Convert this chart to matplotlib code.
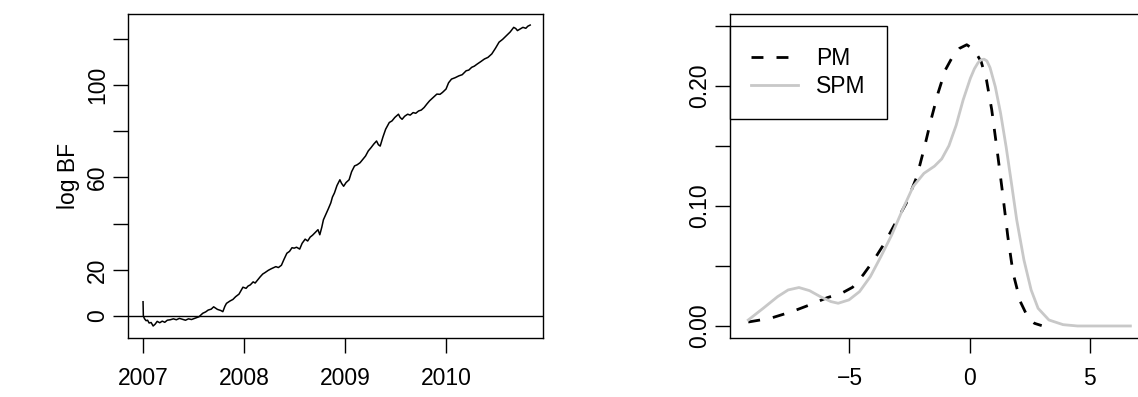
import matplotlib
matplotlib.use("Agg")
import matplotlib.pyplot as plt

plt.rcParams['font.family'] = ['Liberation Sans', 'DejaVu Sans']
plt.rcParams['font.size'] = 16.5

# left panel: cumulative log Bayes factor over time
t = [2007.000, 2007.003, 2007.015, 2007.030, 2007.045, 2007.060, 2007.080, 2007.100,
     2007.120, 2007.140, 2007.165, 2007.190, 2007.215, 2007.240, 2007.270, 2007.300,
     2007.330, 2007.360, 2007.390, 2007.420, 2007.450, 2007.480, 2007.510, 2007.554,
     2007.591, 2007.620, 2007.645, 2007.675, 2007.699, 2007.736, 2007.770, 2007.790,
     2007.810, 2007.826, 2007.860, 2007.890, 2007.917, 2007.950, 2007.970, 2007.989,
     2008.020, 2008.040, 2008.062, 2008.090, 2008.110, 2008.134, 2008.160, 2008.185,
     2008.207, 2008.240, 2008.270, 2008.295, 2008.315, 2008.340, 2008.370, 2008.395,
     2008.424, 2008.450, 2008.475, 2008.496, 2008.520, 2008.551, 2008.575, 2008.605,
     2008.630, 2008.655, 2008.678, 2008.705, 2008.732, 2008.750, 2008.770, 2008.786,
     2008.810, 2008.835, 2008.859, 2008.875, 2008.895, 2008.920, 2008.949, 2008.965,
     2008.986, 2009.010, 2009.040, 2009.065, 2009.094, 2009.120, 2009.149, 2009.175,
     2009.203, 2009.230, 2009.257, 2009.285, 2009.312, 2009.330, 2009.348, 2009.375,
     2009.402, 2009.438, 2009.465, 2009.493, 2009.529, 2009.545, 2009.565, 2009.590,
     2009.620, 2009.645, 2009.674, 2009.700, 2009.728, 2009.755, 2009.783, 2009.810,
     2009.837, 2009.870, 2009.909, 2009.940, 2009.964, 2010.000, 2010.025, 2010.054,
     2010.090, 2010.127, 2010.160, 2010.199, 2010.225, 2010.254, 2010.280, 2010.308,
     2010.345, 2010.380, 2010.415, 2010.453, 2010.490, 2010.525, 2010.560, 2010.598,
     2010.635, 2010.670, 2010.690, 2010.707, 2010.735, 2010.761, 2010.790, 2010.810,
     2010.833]
log_bf = [6.2, 0.0, -1.2, -2.0, -1.8, -3.0, -2.8, -4.3,
          -3.5, -2.3, -2.9, -2.2, -2.7, -1.8, -1.6, -1.2,
          -1.6, -1.0, -1.4, -1.8, -1.2, -1.5, -1.0, -0.3,
          1.2, 1.8, 2.6, 3.0, 4.0, 2.9, 2.4, 1.9,
          4.2, 5.5, 6.5, 7.2, 8.4, 9.5, 11.0, 12.5,
          12.0, 13.0, 13.5, 14.8, 14.3, 15.6, 17.0, 18.2,
          18.8, 19.8, 20.5, 21.0, 21.4, 21.0, 22.0, 24.5,
          27.2, 28.0, 29.6, 29.4, 29.8, 29.0, 31.5, 33.3,
          32.5, 34.2, 35.0, 36.2, 37.4, 35.2, 38.5, 41.7,
          44.0, 46.5, 49.0, 51.5, 53.3, 56.5, 59.0, 57.5,
          56.2, 57.8, 59.0, 62.5, 65.0, 65.5, 66.4, 67.8,
          69.3, 71.5, 72.9, 74.5, 75.8, 74.2, 73.6, 77.5,
          80.9, 83.8, 84.5, 86.0, 87.4, 86.0, 85.2, 86.5,
          87.4, 87.0, 88.1, 87.8, 88.8, 89.2, 90.3, 91.8,
          93.2, 94.5, 96.1, 96.0, 96.8, 98.3, 101.0, 102.6,
          103.2, 104.0, 104.5, 106.2, 106.5, 107.7, 108.2, 109.1,
          110.2, 111.3, 112.0, 113.5, 116.0, 118.6, 119.8, 121.4,
          123.0, 125.0, 124.5, 123.6, 124.3, 125.0, 124.6, 125.5,
          126.0]
year_ticks = [2007, 2008, 2009, 2010]
bf_ticks = [0, 20, 40, 60, 80, 100, 120]
bf_labels = ['0', '20', '', '60', '', '100', '']

# right panel: two density estimates
pm_x = [-9.21, -8.29, -7.40, -6.66, -5.92, -5.33, -4.87, -4.43, -3.98, -3.54, -3.09,
        -2.64, -2.20, -1.90, -1.60, -1.31, -1.01, -0.71, -0.42, -0.12, 0.18, 0.48,
        0.70, 0.92, 1.14, 1.37, 1.59, 1.81, 2.11, 2.41, 2.70, 3.00]
pm_y = [0.0033, 0.0064, 0.0119, 0.0175, 0.0236, 0.0272, 0.0322, 0.0425, 0.055, 0.0689,
        0.0856, 0.102, 0.124, 0.147, 0.172, 0.194, 0.213, 0.224, 0.231, 0.234, 0.230,
        0.220, 0.205, 0.180, 0.147, 0.111, 0.0744, 0.0439, 0.0203, 0.0078, 0.0022, 0.0003]
spm_x = [-9.21, -8.59, -7.99, -7.55, -7.10, -6.66, -6.21, -5.77, -5.47, -5.02, -4.58,
         -4.13, -3.69, -3.24, -2.79, -2.35, -1.90, -1.46, -1.16, -0.86, -0.56, -0.27,
         0.03, 0.20, 0.35, 0.48, 0.60, 0.72, 0.85, 1.07, 1.29, 1.52, 1.74, 1.96, 2.26,
         2.56, 2.85, 3.30, 3.89, 4.49, 6.69]
spm_y = [0.005, 0.0147, 0.0244, 0.030, 0.032, 0.0294, 0.0244, 0.0203, 0.0189, 0.0217,
         0.0286, 0.0411, 0.0578, 0.0758, 0.0967, 0.116, 0.127, 0.133, 0.139, 0.150, 0.167,
         0.188, 0.206, 0.214, 0.219, 0.2215, 0.222, 0.2205, 0.215, 0.199, 0.177, 0.149,
         0.119, 0.0883, 0.055, 0.030, 0.0147, 0.005, 0.0011, 0.0, 0.0]
dens_xticks = [-5, 0, 5]
dens_yticks = [0.00, 0.05, 0.10, 0.15, 0.20, 0.25]
dens_ylabels = ['0.00', '', '0.10', '', '0.20', '']

W, H = 1138, 397
fig = plt.figure(figsize=(W / 100, H / 100), dpi=100)

def px_axes(x0, x1, y0, y1):
    return fig.add_axes([x0 / W, 1 - y1 / H, (x1 - x0) / W, (y1 - y0) / H])

def r_style(ax):
    for s in ax.spines.values():
        s.set_linewidth(1.0)
        s.set_color('black')
    ax.tick_params(direction='out', length=11, width=1.0, colors='black')
    ax.tick_params(axis='x', pad=10)
    ax.tick_params(axis='y', pad=2.5)
    for lab in ax.get_yticklabels():
        lab.set_rotation(90)
        lab.set_va('center')

ax1 = px_axes(128, 543, 13.5, 338)
ax1.plot(t, log_bf, color='black', lw=1.1)
ax1.axhline(0, color='black', lw=1.0)
ax1.set_xlim(2006.851, 2010.960)
ax1.set_ylim(-9.5, 131.0)
ax1.set_xticks(year_ticks)
ax1.set_xticklabels([str(y) for y in year_ticks])
ax1.set_yticks(bf_ticks)
ax1.set_yticklabels(bf_labels)
ax1.set_ylabel('log BF')
ax1.yaxis.set_label_coords(-0.116, 0.5)
r_style(ax1)

ax2 = px_axes(730, 1146, 13.5, 338)
ax2.plot(pm_x, pm_y, color='black', lw=2.0, dashes=(4.3, 4.7), label='PM')
ax2.plot(spm_x, spm_y, color='#c8c8c8', lw=2.0, label='SPM')
ax2.set_xlim(-9.97, 7.34)
ax2.set_ylim(-0.01, 0.26)
ax2.set_xticks(dens_xticks)
ax2.set_xticklabels(['\u22125', '0', '5'])
ax2.set_yticks(dens_yticks)
ax2.set_yticklabels(dens_ylabels)
r_style(ax2)
leg = ax2.legend(loc='upper left', bbox_to_anchor=(0, 0.26 / 0.27), borderaxespad=0,
                 fancybox=False, edgecolor='black', framealpha=1, handlelength=2.05,
                 handletextpad=0.8, borderpad=0.92, labelspacing=0.25)
leg.get_frame().set_linewidth(1.0)

fig.savefig('out.png', dpi=100)
